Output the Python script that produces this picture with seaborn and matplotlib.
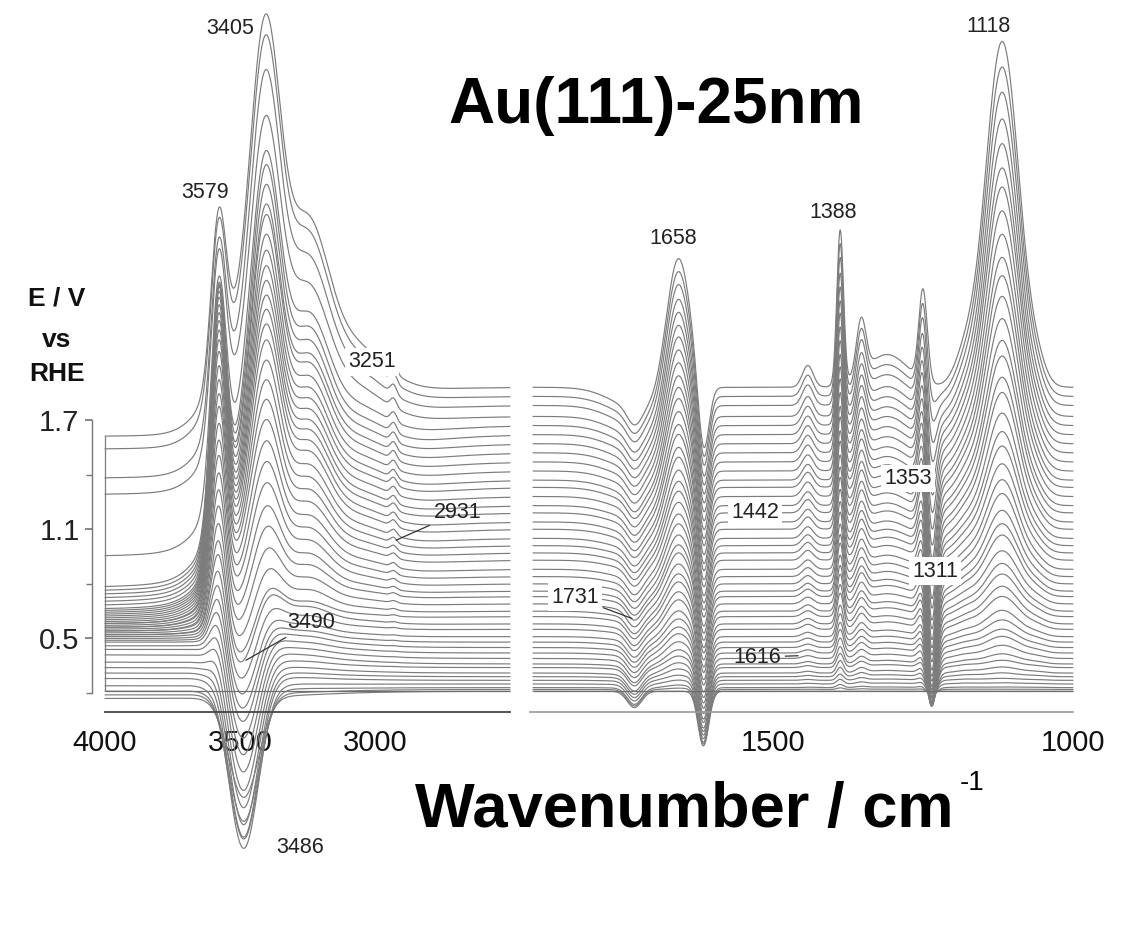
import numpy as np
import pandas as pd
import matplotlib
matplotlib.use("Agg")
import matplotlib.pyplot as plt
import seaborn as sns

sns.set_theme(style="white")
plt.rcParams["font.family"] = ["Liberation Sans", "DejaVu Sans"]

# ---- spectra, listed from the lowest trace to the highest -------------------
# baseline of every trace at the 4000 cm-1 edge (E / V units)
base_4000 = [0.17, 0.19, 0.21, 0.24, 0.28, 0.31, 0.34, 0.37, 0.41, 0.44,
             0.46, 0.48, 0.49, 0.50, 0.51, 0.52, 0.52, 0.53, 0.54, 0.54,
             0.55, 0.56, 0.56, 0.57, 0.58, 0.58, 0.59, 0.60, 0.61, 0.62,
             0.63, 0.64, 0.65, 0.66, 0.68, 0.70, 0.72, 0.74, 0.76, 0.78,
             0.95, 1.29, 1.38, 1.54, 1.61]
# baseline of every trace at the 1900 cm-1 edge
base_1900 = [0.21, 0.22, 0.23, 0.25, 0.27, 0.29, 0.31, 0.34, 0.36, 0.39,
             0.42, 0.45, 0.48, 0.51, 0.55, 0.58, 0.62, 0.65, 0.69, 0.73,
             0.76, 0.80, 0.84, 0.88, 0.93, 0.97, 1.01, 1.05, 1.10, 1.14,
             1.19, 1.23, 1.28, 1.33, 1.37, 1.42, 1.47, 1.52, 1.57, 1.62,
             1.67, 1.72, 1.78, 1.83, 1.88]
# O-H stretching band heights (3405 family), sharp 3579 band, negative 3486 band
oh_3405 = [0.00, 0.00, 0.01, 0.01, 0.02, 0.02, 0.03, 0.04, 0.05, 0.06,
           0.08, 0.10, 0.12, 0.15, 0.20, 0.26, 0.28, 0.37, 0.46, 0.56,
           0.65, 0.75, 0.85, 0.94, 1.03, 1.13, 1.22, 1.31, 1.40, 1.47,
           1.53, 1.59, 1.65, 1.71, 1.77, 1.83, 1.91, 1.94, 2.02, 2.10,
           2.04, 1.97, 2.14, 2.20, 2.25]
oh_3579 = [0.00, 0.01, 0.02, 0.03, 0.04, 0.06, 0.08, 0.11, 0.14, 0.17,
           0.21, 0.25, 0.30, 0.35, 0.40, 0.46, 0.52, 0.58, 0.64, 0.70,
           0.76, 0.82, 0.88, 0.94, 1.00, 1.05, 1.10, 1.15, 1.20, 1.24,
           1.27, 1.30, 1.32, 1.34, 1.35, 1.35, 1.34, 1.32, 1.30, 1.25,
           1.15, 1.00, 0.95, 0.90, 0.88]
oh_3486 = [0.55, 0.70, 0.82, 0.90, 0.88, 0.84, 0.78, 0.72, 0.66, 0.60,
           0.54, 0.48, 0.43, 0.38, 0.33, 0.28, 0.24, 0.20, 0.16, 0.12,
           0.09, 0.06, 0.04, 0.02, 0.00, 0.00, 0.00, 0.00, 0.00, 0.00,
           0.00, 0.00, 0.00, 0.00, 0.00, 0.00, 0.00, 0.00, 0.00, 0.00,
           0.00, 0.00, 0.00, 0.00, 0.00]
# relative growth of the fingerprint bands
fp_gain = [0.00, 0.01, 0.02, 0.03, 0.04, 0.06, 0.08, 0.09, 0.11, 0.13,
           0.15, 0.16, 0.18, 0.20, 0.23, 0.25, 0.27, 0.29, 0.31, 0.34,
           0.36, 0.38, 0.41, 0.43, 0.45, 0.48, 0.50, 0.53, 0.56, 0.58,
           0.61, 0.63, 0.66, 0.69, 0.72, 0.74, 0.77, 0.80, 0.83, 0.85,
           0.88, 0.91, 0.94, 0.97, 1.00]

reference_level = 0.21

# O-H region band shapes (centre, width, weight) and small C-H band
oh_centres = [3405, 3251, 3470, 3100]
oh_widths = [55, 75, 110, 120]
oh_weights = [1.68, 0.85, 0.55, 0.30]
ch_centre, ch_width, ch_ratio = 2931, 12, 0.025

# fingerprint bands: centre, width, amplitude, growth power (-1 = mid-range band)
fp_centres = [1731, 1722, 1658, 1616, 1616, 1442, 1388, 1353, 1310, 1250, 1236, 1180, 1118, 1060]
fp_widths = [12, 45, 20, 9, 9, 9, 5.5, 8, 35, 7, 8, 18, 28, 15]
fp_amps = [-0.09, -0.12, 0.75, -0.30, -0.10, 0.12, 0.85, 0.30, 0.18, 0.50, -0.60, 0.15, 1.90, 0.08]
fp_power = [0, 1, 1, 0, 1, 1, 1, 1, 1, 1, -1, 1, 1.6, 1]

# peak annotations: text, wavenumber position, height
left_labels = [("3405", 3537, 3.85), ("3579", 3630, 2.95), ("3251", 3011, 2.02)]
right_labels = [("1658", 1667, 2.70), ("1388", 1400, 2.84), ("1118", 1140, 3.86)]
boxed_labels = [("1353", 1275, 1.38), ("1442", 1530, 1.19), ("1311", 1230, 0.87)]


def band(x, c, w):
    return np.exp(-0.5 * ((x - c) / w) ** 2)


wn_left = np.arange(4000.0, 2499.0, -2.0)
wn_right = np.arange(1900.0, 999.0, -1.0)

oh_shape = sum(a * band(wn_left, c, w) for c, w, a in zip(oh_centres, oh_widths, oh_weights))
oh_norm = sum(a * band(3405.0, c, w) for c, w, a in zip(oh_centres, oh_widths, oh_weights))
oh_shape = oh_shape / oh_norm
ramp = 1.0 / (1.0 + np.exp((wn_left - 3250.0) / 150.0))

rows_left, rows_right = [], []
for i in range(len(base_4000)):
    y = (base_4000[i] + (base_1900[i] - base_4000[i]) * ramp
         + oh_3405[i] * oh_shape
         + oh_3579[i] * band(wn_left, 3579, 28)
         - oh_3486[i] * band(wn_left, 3486, 55)
         + ch_ratio * oh_3405[i] * band(wn_left, ch_centre, ch_width))
    rows_left.append(pd.DataFrame({"wn": wn_left, "value": y, "trace": i}))

    f = fp_gain[i]
    yr = np.full_like(wn_right, base_1900[i])
    for c, w, a, p in zip(fp_centres, fp_widths, fp_amps, fp_power):
        g = 4 * f * (1 - f) if p < 0 else f ** p
        yr = yr + a * g * band(wn_right, c, w)
    rows_right.append(pd.DataFrame({"wn": wn_right, "value": yr, "trace": i}))

df_left = pd.concat(rows_left, ignore_index=True)
df_right = pd.concat(rows_right, ignore_index=True)

# ---- figure ------------------------------------------------------------------
W, H = 1134, 943
fig = plt.figure(figsize=(W / 100, H / 100), dpi=100)
fig.patch.set_facecolor("white")

ylo, yhi = -0.937, 4.008
axL = fig.add_axes([88.8 / W, 43 / H, (515.4 - 88.8) / W, 900 / H])
axR = fig.add_axes([527 / W, 43 / H, 552 / W, 900 / H])

line_kw = dict(units="trace", estimator=None, sort=False, color="#7c7c7c",
               lw=0.85, legend=False)
sns.lineplot(data=df_left, x="wn", y="value", ax=axL, **line_kw)
sns.lineplot(data=df_right, x="wn", y="value", ax=axR, **line_kw)
axL.hlines(reference_level, 4000, 2500, color="#6e6e6e", lw=0.9)
axR.hlines(reference_level, 1900, 1000, color="#6e6e6e", lw=0.9)
axL.vlines(4000, reference_level, max(base_4000), color="#7c7c7c", lw=0.9)

axL.set_xlim(4060, 2480)
axR.set_xlim(1910, 990)
axis_level = 0.0956
for ax in (axL, axR):
    ax.set_ylim(ylo, yhi)
    ax.set_facecolor("none")
    ax.set_xlabel("")
    ax.set_ylabel("")
    ax.spines["top"].set_visible(False)
    ax.spines["right"].set_visible(False)
    ax.spines["bottom"].set_position(("data", axis_level))
    ax.tick_params(axis="x", which="both", direction="in", labelsize=21,
                   pad=12, colors="#333333", labelcolor="#111111")
    ax.tick_params(axis="x", which="major", length=5, width=0.9)
    ax.tick_params(axis="x", which="minor", length=4, width=0.8)

axL.spines["bottom"].set_bounds(2500, 4000)
axL.spines["bottom"].set_color("#444444")
axL.spines["bottom"].set_linewidth(1.3)
axL.set_xticks([4000, 3500, 3000])
axL.set_xticks(np.arange(2500, 4001, 100), minor=True)

axL.spines["left"].set_position(("data", 4048))
axL.spines["left"].set_bounds(0.2, 1.7)
axL.spines["left"].set_color("#777777")
axL.spines["left"].set_linewidth(1.0)
axL.set_yticks([0.5, 1.1, 1.7])
axL.set_yticks([0.2, 0.8, 1.4], minor=True)
axL.tick_params(axis="y", which="both", direction="out", left=True,
                labelsize=21, colors="#777777", labelcolor="#222222", pad=4)
axL.tick_params(axis="y", which="major", length=5)
axL.tick_params(axis="y", which="minor", length=4)

axR.spines["left"].set_visible(False)
axR.spines["bottom"].set_bounds(1000, 1905)
axR.spines["bottom"].set_color("#9a9a9a")
axR.spines["bottom"].set_linewidth(1.2)
axR.set_yticks([])
axR.set_xticks([1500, 1000])
axR.set_xticks(np.arange(1000, 1901, 100), minor=True)

# ---- annotations -------------------------------------------------------------
lab = dict(fontsize=15.5, ha="center", va="center", color="#222222")
box = dict(boxstyle="square,pad=0.15", fc="white", ec="none")
for t, x, y in left_labels:
    axL.text(x, y, t, **lab, bbox=box if t == "3251" else None)
for t, x, y in right_labels:
    axR.text(x, y, t, **lab)
for t, x, y in boxed_labels:
    axR.text(x, y, t, **lab, bbox=box)

lead = dict(arrowstyle="-", color="#333333", lw=0.9, shrinkA=1, shrinkB=0)
axL.annotate("2931", xy=(2922, 1.04), xytext=(2693, 1.19), **lab, arrowprops=lead)
axL.annotate("3490", xy=(3478, 0.38), xytext=(3237, 0.585), **lab, arrowprops=lead)
axL.text(3278, -0.646, "3486", **lab)
axR.annotate("1731", xy=(1735, 0.61), xytext=(1830, 0.727), **lab, arrowprops=lead,
             bbox=box)
axR.annotate("1616", xy=(1458, 0.405), xytext=(1527, 0.398), **lab, arrowprops=lead)

fig.text(656 / W, 1 - 123 / H, "Au(111)-25nm", ha="center", va="baseline",
         fontsize=46, fontweight="bold", color="black")
fig.text(415 / W, 1 - 827 / H, "Wavenumber / cm", ha="left", va="baseline",
         fontsize=45.5, fontweight="bold", color="black")
fig.text(960 / W, 1 - 790 / H, "-1", ha="left", va="baseline", fontsize=20,
         color="black")
for t, yy in (("E / V", 299), ("vs", 340), ("RHE", 374)):
    fig.text(57 / W, 1 - yy / H, t, ha="center", va="center", fontsize=19,
             fontweight="bold", color="#111111")

fig.savefig("out.png", dpi=100, facecolor="white")
